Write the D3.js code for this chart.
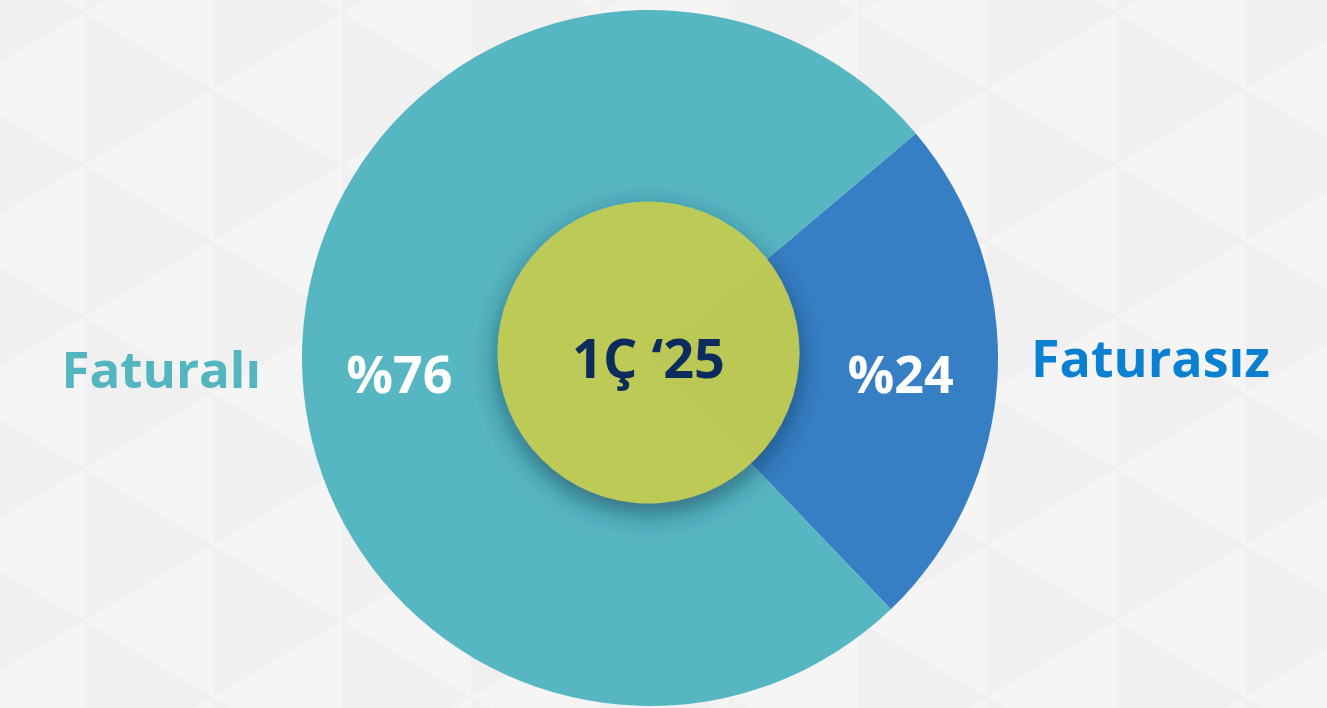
<!DOCTYPE html>
<html>
<head>
<meta charset="utf-8">
<script src="https://cdn.jsdelivr.net/npm/d3@7"></script>
<style>
  html, body { margin: 0; padding: 0; background: #f4f4f4; overflow: hidden; }
  svg { display: block; }
  text { font-family: "Open Sans", Lato, sans-serif; font-weight: 700; }
</style>
</head>
<body>
<div class="donut"></div>
<script>
// ------------------------------------------------------
const width = 1327;
const height = 708;
const categories = [ 'Faturasız', 'Faturalı' ];
const shares = [ 24, 76 ];
const sliceColors = [ '#377fc4', '#56b6c2' ];
const labelColors = [ '#0a80d2', '#52b5c0' ];
const centerLabel = '1Ç ‘25';
// ------------------------------------------------------
const cx = 650;
const cy = 358;
const outerRadius = 348;
const innerRadius = 151;
const startAngle = 49.8 * Math.PI / 180;
// ------------------------------------------------------
const svg = d3.select( '.donut' )
    .append( 'svg' )
    .attr( 'width', width )
    .attr( 'height', height );

const defs = svg.append( 'defs' );

// background triangle pattern (columns of right-pointing triangles)
const colW = 129;
const period = 152;
const pat = defs.append( 'pattern' )
    .attr( 'id', 'tri' )
    .attr( 'patternUnits', 'userSpaceOnUse' )
    .attr( 'x', -45 ).attr( 'y', 13 )
    .attr( 'width', colW * 2 ).attr( 'height', period );
pat.append( 'rect' )
    .attr( 'width', colW * 2 )
    .attr( 'height', period )
    .attr( 'fill', '#f5f5f5' );
const triPaths = [
    [ [ 0, -76 ], [ colW, 0 ], [ 0, 76 ] ],
    [ [ 0, 76 ], [ colW, 152 ], [ 0, 228 ] ],
    [ [ colW, 0 ], [ colW * 2, 76 ], [ colW, 152 ] ]
];
pat.selectAll( 'path' )
    .data( triPaths )
    .enter()
    .append( 'path' )
    .attr( 'd', d => 'M' + d.join( 'L' ) + 'Z' )
    .attr( 'fill', '#f0f0f0' );

svg.append( 'rect' )
    .attr( 'width', width )
    .attr( 'height', height )
    .attr( 'fill', 'url(#tri)' );

const shadow = defs.append( 'filter' )
    .attr( 'id', 'shadow' )
    .attr( 'x', '-40%' ).attr( 'y', '-40%' )
    .attr( 'width', '180%' ).attr( 'height', '180%' );
shadow.append( 'feDropShadow' )
    .attr( 'dx', 0 ).attr( 'dy', 9 )
    .attr( 'stdDeviation', 13 )
    .attr( 'flood-color', '#0b2f4a' )
    .attr( 'flood-opacity', 0.6 );
// ------------------------------------------------------
const pie = d3.pie()
    .sort( null )
    .startAngle( startAngle )
    .endAngle( startAngle + 2 * Math.PI )
    .value( d => d );

const arcs = pie( shares );

const arc = d3.arc()
    .innerRadius( 0 )
    .outerRadius( outerRadius );

const labelArc = d3.arc()
    .innerRadius( 251 )
    .outerRadius( 251 );

const color = d3.scaleOrdinal( categories, sliceColors );
const textColor = d3.scaleOrdinal( categories, labelColors );

const g = svg.append( 'g' )
    .attr( 'transform', 'translate(' + cx + ',' + cy + ')' );

g.selectAll( '.slice' )
    .data( arcs )
    .enter()
    .append( 'path' )
    .classed( 'slice', true )
    .attr( 'd', arc )
    .attr( 'fill', ( d, i ) => color( categories[ i ] ) );

// percentage labels
g.selectAll( '.pct' )
    .data( arcs )
    .enter()
    .append( 'text' )
    .classed( 'pct', true )
    .attr( 'x', d => labelArc.centroid( d )[0] )
    .attr( 'y', 35 )
    .attr( 'text-anchor', 'middle' )
    .attr( 'font-size', '52px' )
    .attr( 'fill', '#ffffff' )
    .text( d => '%' + d.value );

// side category labels
g.selectAll( '.cat' )
    .data( arcs )
    .enter()
    .append( 'text' )
    .classed( 'cat', true )
    .attr( 'x', d => labelArc.centroid( d )[0] > 0 ? 381 : -389 )
    .attr( 'y', ( d, i ) => i === 0 ? 19 : 30 )
    .attr( 'text-anchor', d => labelArc.centroid( d )[0] > 0 ? 'start' : 'end' )
    .attr( 'font-size', ( d, i ) => i === 0 ? '52px' : '51px' )
    .attr( 'fill', ( d, i ) => textColor( categories[ i ] ) )
    .text( ( d, i ) => categories[ i ] );
// ------------------------------------------------------
// centre disc
const center = svg.append( 'g' )
    .attr( 'transform', 'translate(' + ( cx - 1.5 ) + ',' + ( cy - 5.5 ) + ')' );

center.append( 'circle' )
    .attr( 'r', innerRadius )
    .attr( 'fill', '#c2cc52' )
    .attr( 'fill-opacity', 0.95 )
    .attr( 'filter', 'url(#shadow)' );

center.append( 'text' )
    .attr( 'y', 25 )
    .attr( 'text-anchor', 'middle' )
    .attr( 'font-size', '54px' )
    .attr( 'fill', '#0b2c5c' )
    .text( centerLabel );
</script>
</body>
</html>
